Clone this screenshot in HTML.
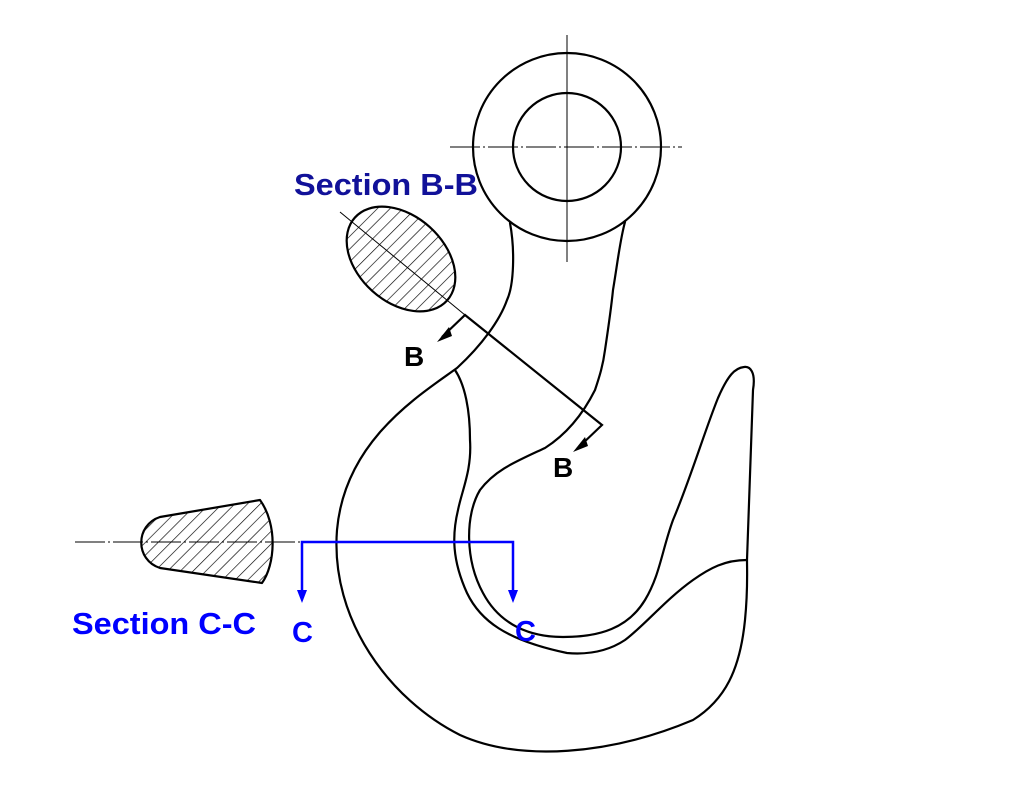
<!DOCTYPE html>
<html><head><meta charset="utf-8"><style>html,body{margin:0;padding:0;background:#fff}svg{display:block}</style></head>
<body>
<svg width="1024" height="797" viewBox="0 0 1024 797" xmlns="http://www.w3.org/2000/svg">
<defs>
<pattern id="h" patternUnits="userSpaceOnUse" width="9" height="9" patternTransform="rotate(45)">
<line x1="0" y1="0" x2="0" y2="9" stroke="#000" stroke-width="1.3"/>
</pattern>
<clipPath id="ce"><ellipse cx="401" cy="259" rx="62" ry="43" transform="rotate(42 401 259)"/></clipPath>
</defs>
<g fill="none" stroke="#000" stroke-width="2.2" stroke-linecap="round" stroke-linejoin="round">
<circle cx="567" cy="147" r="94"/>
<circle cx="567" cy="147" r="54"/>
<path d="M510,223 C515,250 514,285 507,300 C500,320 482,345 457,368 C420,395 345,440 337,530 C330,620 390,700 460,735 C520,762 610,755 693,720 C725,700 740,670 745,620 C748,590 747,570 747,560 L753,390 C756,372 750,366 744,367 C735,368 728,375 718,398 C705,430 690,480 673,520 C662,550 660,575 645,600 C628,628 600,637 563,637 C530,637 500,625 483,593 C465,560 465,515 480,490 C495,470 515,462 545,448 C570,432 585,410 595,390 C600,375 603,365 605,350 C608,330 612,300 613,290 C618,260 620,240 625,222"/>
<path d="M455,370 C465,385 470,410 470,440 C472,470 462,490 458,510 C452,535 452,560 467,593 C480,620 505,640 567,653 C590,655 610,650 625,640 C645,625 665,600 693,580 C710,568 725,560 747,560"/>
<path d="M260,500 L160,517 C135,525 135,560 160,568 L262,583 C275,565 278,525 260,500 Z" fill="url(#h)"/>
</g>
<g>
<ellipse cx="401" cy="259" rx="62" ry="43" transform="rotate(42 401 259)" fill="#fff"/>
<rect x="320" y="190" width="160" height="140" fill="url(#h)" clip-path="url(#ce)"/>
<ellipse cx="401" cy="259" rx="62" ry="43" transform="rotate(42 401 259)" fill="none" stroke="#000" stroke-width="2.2"/>
</g>
<g stroke="#000" stroke-width="1" fill="none">
<line x1="567" y1="35" x2="567" y2="262"/>
<line x1="450" y1="147" x2="682" y2="147" stroke-dasharray="30,3,2,3"/>
<line x1="75" y1="542" x2="300" y2="542" stroke-dasharray="30,3,2,3"/>
<line x1="340" y1="212" x2="465" y2="315"/>
</g>
<g stroke="#000" stroke-width="2.2" fill="none">
<polyline points="442,337 465,315 602,425 580,446"/>
</g>
<polygon points="437,342 449,327 452,336" fill="#000"/>
<polygon points="573,452 585,437 588,446" fill="#000"/>
<g stroke="#0000ff" stroke-width="2.5" fill="none">
<polyline points="302,593 302,542 513,542 513,593"/>
</g>
<polygon points="297,590 307,590 302,603" fill="#0000ff"/>
<polygon points="508,590 518,590 513,603" fill="#0000ff"/>
<g font-family="Liberation Sans, sans-serif" font-weight="bold">
<text x="294" y="195" font-size="31" fill="#111199" textLength="184" lengthAdjust="spacingAndGlyphs">Section B-B</text>
<text x="404" y="366" font-size="28" fill="#000">B</text>
<text x="553" y="477" font-size="28" fill="#000">B</text>
<text x="72" y="634" font-size="31" fill="#0000ff" textLength="184" lengthAdjust="spacingAndGlyphs">Section C-C</text>
<text x="292" y="642" font-size="29" fill="#0000ff">C</text>
<text x="515" y="641" font-size="29" fill="#0000ff">C</text>
</g>
</svg>
</body></html>
